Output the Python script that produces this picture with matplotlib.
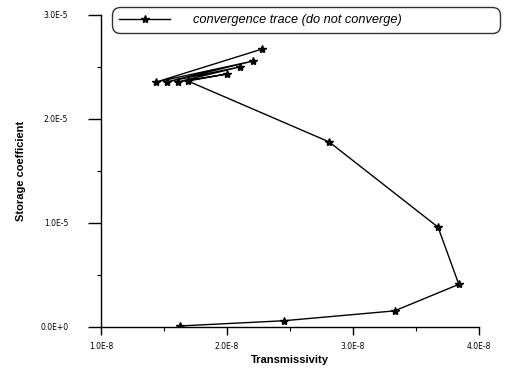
import matplotlib
matplotlib.use("Agg")
import matplotlib.pyplot as plt
from matplotlib.ticker import FixedLocator, MultipleLocator

plt.rcParams['font.family'] = ['Liberation Sans', 'DejaVu Sans']

# convergence trace (transmissivity, storage coefficient)
transmissivity = [1.63e-8, 2.45e-8, 3.33e-8, 3.84e-8, 3.675e-8, 2.81e-8,
                  1.69e-8, 2.00e-8, 1.61e-8, 2.10e-8, 1.52e-8, 2.21e-8,
                  1.44e-8, 2.28e-8]
storage = [0.01e-5, 0.06e-5, 0.155e-5, 0.41e-5, 0.96e-5, 1.78e-5,
           2.365e-5, 2.433e-5, 2.356e-5, 2.50e-5, 2.356e-5, 2.558e-5,
           2.356e-5, 2.673e-5]

x_ticks = [1e-8, 2e-8, 3e-8, 4e-8]
x_tick_labels = ["1.0E-8", "2.0E-8", "3.0E-8", "4.0E-8"]
y_ticks = [0, 1e-5, 2e-5, 3e-5]
y_tick_labels = ["0.0E+0", "1.0E-5", "2.0E-5", "3.0E-5"]

fig = plt.figure(figsize=(5.05, 3.72), dpi=100)
ax = fig.add_axes([0.2, 0.121, 0.7485, 0.8387])

ax.plot(transmissivity, storage, color='black', lw=1.0, marker='*',
        markersize=6, label='convergence trace (do not converge)')

ax.set_xlim(1e-8, 4e-8)
ax.set_ylim(0, 3e-5)
ax.xaxis.set_major_locator(FixedLocator(x_ticks))
ax.set_xticklabels(x_tick_labels, fontfamily='DejaVu Sans')
ax.yaxis.set_major_locator(FixedLocator(y_ticks))
ax.set_yticklabels(y_tick_labels, fontfamily='DejaVu Sans')
ax.xaxis.set_minor_locator(MultipleLocator(0.5e-8))
ax.yaxis.set_minor_locator(MultipleLocator(0.5e-5))

ax.tick_params(axis='x', which='major', direction='out', length=6, width=1,
               labelsize=5.5, pad=5)
ax.tick_params(axis='y', which='major', direction='out', length=9.5, width=1,
               labelsize=5.5, pad=14)
ax.tick_params(axis='both', which='minor', direction='out', length=3, width=0.8)

for s in ['top', 'right']:
    ax.spines[s].set_visible(False)
for s in ['left', 'bottom']:
    ax.spines[s].set_linewidth(1.0)

ax.set_xlabel('Transmissivity', fontsize=8, fontweight='bold', labelpad=3)
ax.set_ylabel('Storage coefficient', fontsize=8, fontweight='bold', labelpad=10)

leg = ax.legend(loc='lower left',
                bbox_to_anchor=(112 / 505, 1 - 33 / 372, 388 / 505, 25 / 372),
                bbox_transform=fig.transFigure, mode='expand',
                prop={'style': 'italic', 'size': 9.2}, frameon=True,
                fancybox=True, edgecolor='black', handlelength=4,
                borderpad=0.55, borderaxespad=0, handletextpad=1.8)
leg.get_frame().set_linewidth(1.0)
leg.get_frame().set_boxstyle('round,pad=0,rounding_size=0.6')

fig.savefig('out.png', dpi=100)
